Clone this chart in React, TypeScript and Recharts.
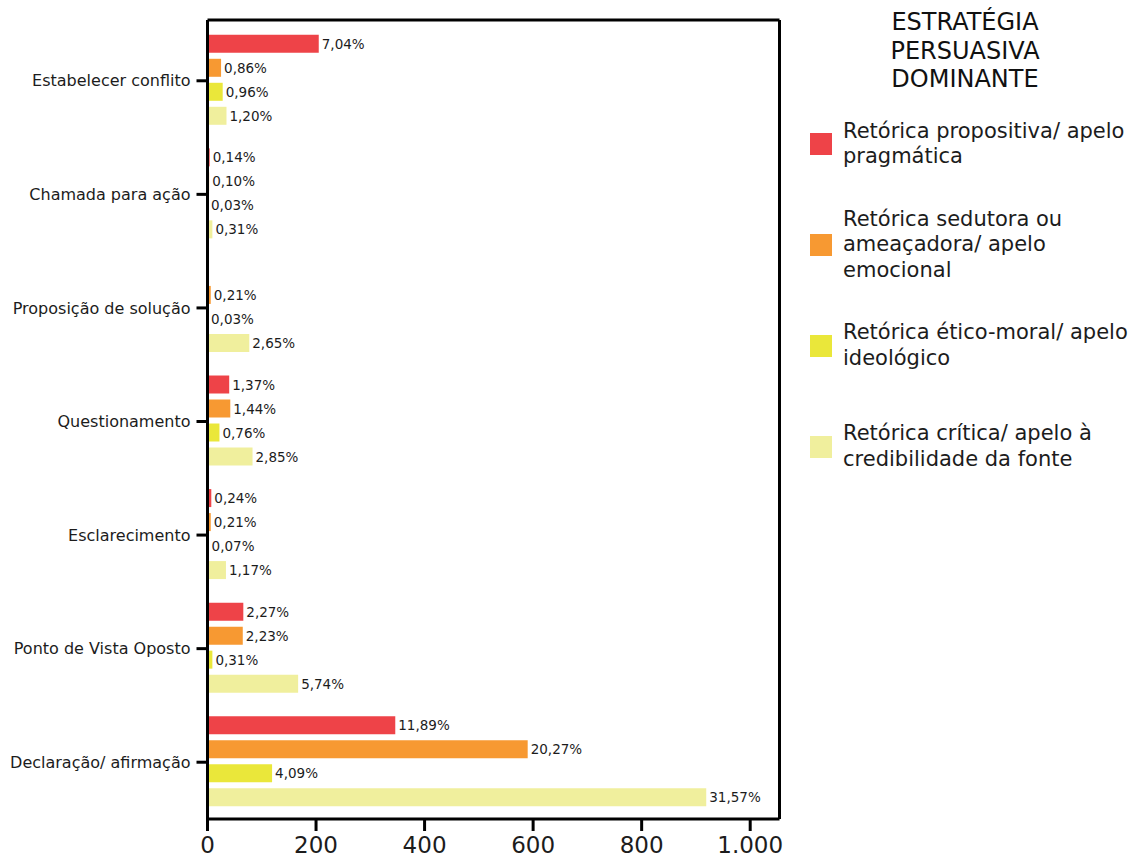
import { Bar, BarChart, LabelList, XAxis, YAxis } from "recharts";

const categories = [
  "Estabelecer conflito",
  "Chamada para ação",
  "Proposição de solução",
  "Questionamento",
  "Esclarecimento",
  "Ponto de Vista Oposto",
  "Declaração/ afirmação",
];

// occurrence counts per category
const pragmatico = [205, 4, 0, 40, 7, 66, 346];
const emocional = [25, 3, 6, 42, 6, 65, 590];
const ideologico = [28, 1, 1, 22, 2, 9, 119];
const credibilidade = [35, 9, 77, 83, 34, 167, 919];

const xTicks = [0, 200, 400, 600, 800, 1000];

const series = [
  { key: "pragmatico", name: "Retórica propositiva/ apelo pragmática", color: "#EE4348", values: pragmatico },
  { key: "emocional", name: "Retórica sedutora ou ameaçadora/ apelo emocional", color: "#F79932", values: emocional },
  { key: "ideologico", name: "Retórica ético-moral/ apelo ideológico", color: "#EAE73A", values: ideologico },
  { key: "credibilidade", name: "Retórica crítica/ apelo à credibilidade da fonte", color: "#F0EF9D", values: credibilidade },
];

const total = series.reduce((sum, s) => sum + s.values.reduce((a, b) => a + b, 0), 0);

const data = categories.map((name, i) => {
  const row: Record<string, string | number> = { name };
  series.forEach((s) => {
    row[s.key] = s.values[i];
  });
  return row;
});

const FONT = "'DejaVu Sans', Verdana, sans-serif";
const TEXT = "#1c1c1c";

const pct = (v: number) => ((v / total) * 100).toFixed(2).replace(".", ",") + "%";
const thousands = (v: number) => String(v).replace(/\B(?=(\d{3})+(?!\d))/g, ".");

function ValueLabel(props: any) {
  const { x, y, width, height, value } = props;
  if (!value) return null;
  return (
    <text
      x={Number(x) + Number(width) + 3}
      y={Number(y) + Number(height) / 2}
      dominantBaseline="central"
      fontSize={13.5}
      fontFamily={FONT}
      fill={TEXT}
    >
      {pct(Number(value))}
    </text>
  );
}

const axisStroke = { stroke: "#000", strokeWidth: 3 };

function LegendPanel() {
  return (
    <div style={{ position: "absolute", left: 810, top: 8, width: 333, fontFamily: FONT, color: TEXT }}>
      <div style={{ width: 310, textAlign: "center", fontSize: 24, lineHeight: "28.5px", color: "#111" }}>
        ESTRATÉGIA
        <br />
        PERSUASIVA
        <br />
        DOMINANTE
      </div>
      <div style={{ marginTop: 0.6 }}>
        {series.map((s) => (
          <div key={s.key} style={{ display: "flex", alignItems: "center", height: 100.7 }}>
            <div style={{ width: 22, height: 22, background: s.color, flex: "none" }} />
            <div style={{ marginLeft: 11, width: 298, fontSize: 21, lineHeight: "25.5px" }}>{s.name}</div>
          </div>
        ))}
      </div>
    </div>
  );
}

export default function App() {
  return (
    <div style={{ position: "absolute", left: 0, top: 0, width: 1143, height: 857, background: "#fff" }}>
      <BarChart
        width={1143}
        height={857}
        data={data}
        layout="vertical"
        margin={{ top: 19, right: 362.5, bottom: 0, left: 0 }}
        barGap={6}
        barCategoryGap="9.5%"
      >
        <XAxis
          type="number"
          domain={[0, 1054]}
          ticks={xTicks}
          tickFormatter={thousands}
          height={38}
          axisLine={axisStroke}
          tickLine={axisStroke}
          tickSize={12}
          tickMargin={6}
          tick={{ fontSize: 23, fontFamily: FONT, fill: TEXT }}
        />
        {/* top and right edges of the plot frame */}
        <XAxis xAxisId="top" orientation="top" type="number" domain={[0, 1054]} height={1} tick={false} tickLine={false} axisLine={axisStroke} />
        <YAxis
          type="category"
          dataKey="name"
          width={207.5}
          padding={{ top: 4, bottom: 0 }}
          axisLine={axisStroke}
          tickLine={axisStroke}
          tickSize={11}
          tickMargin={6}
          tick={{ fontSize: 16, fontFamily: FONT, fill: TEXT }}
        />
        <YAxis yAxisId="right" orientation="right" type="category" dataKey="name" width={1} tick={false} tickLine={false} axisLine={axisStroke} />
        {series.map((s) => (
          <Bar key={s.key} dataKey={s.key} name={s.name} fill={s.color} isAnimationActive={false}>
            <LabelList dataKey={s.key} content={ValueLabel} />
          </Bar>
        ))}
      </BarChart>
      <LegendPanel />
    </div>
  );
}
